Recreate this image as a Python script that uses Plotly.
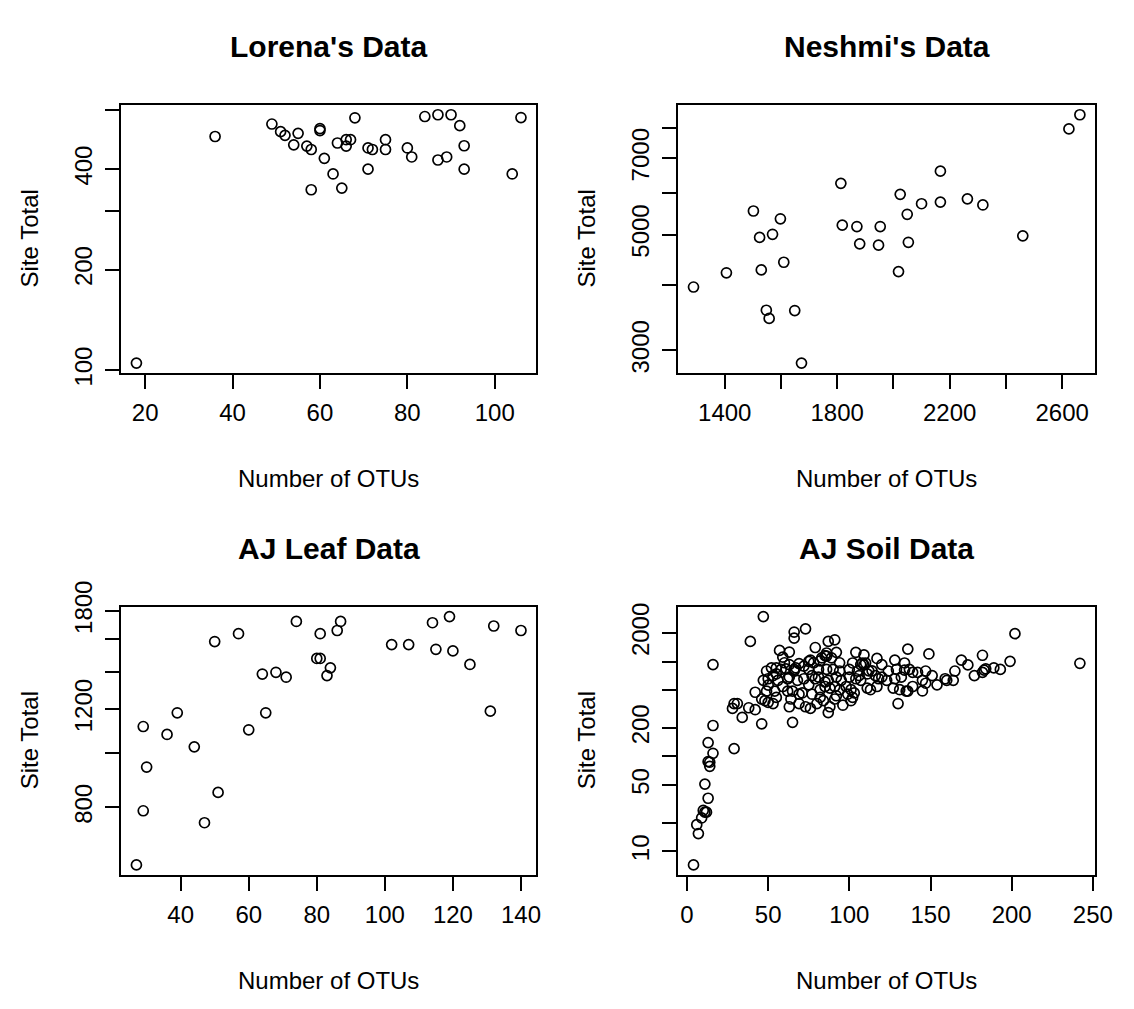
import numpy as np
import plotly.graph_objects as go

# ---------------- data ----------------
lorena_otus = [18, 36, 49, 51, 52, 55, 54, 57, 58, 58, 60, 60, 61, 63, 64, 65, 66, 66, 67, 68,
               71, 71, 72, 75, 75, 80, 81, 84, 87, 87, 89, 90, 92, 93, 93, 104, 106]
lorena_total = [105, 501, 546, 518, 505, 512, 473, 469, 458, 347, 529, 522, 431, 387, 479, 351, 490, 469, 490, 570,
                463, 400, 458, 490, 458, 463, 435, 575, 582, 426, 435, 582, 540, 470, 400, 387, 571]

neshmi_otus = [1289, 1406, 1502, 1524, 1530, 1548, 1558, 1570, 1598, 1610, 1649, 1673, 1813, 1818, 1870,
               1880, 1947, 1953, 2018, 2024, 2049, 2053, 2100, 2167, 2167, 2263, 2318, 2460, 2624, 2663]
neshmi_total = [3968, 4225, 5548, 4938, 4279, 3582, 3455, 5007, 5361, 4426, 3577, 2837, 6267, 5212, 5181,
                4800, 4773, 5181, 4248, 5972, 5468, 4833, 5729, 6614, 5771, 5853, 5698, 4973, 7968, 8481]

leaf_otus = [27, 29, 29, 30, 36, 39, 44, 47, 50, 51, 57, 60, 64, 65, 68, 71, 74, 80, 81, 81,
             83, 84, 86, 87, 102, 107, 114, 115, 119, 120, 125, 131, 132, 140]
leaf_total = [631, 1117, 789, 945, 1081, 1182, 1027, 751, 1586, 851, 1638, 1102, 1387, 1182, 1397, 1369, 1723, 1479, 1479, 1638,
              1378, 1423, 1660, 1723, 1566, 1566, 1714, 1536, 1758, 1526, 1443, 1190, 1691, 1660]

soil_otus = [4, 7, 6, 9, 10, 11, 12, 11, 13, 13, 14, 14, 16, 13, 16, 16, 29, 28, 29, 31,
             34, 38, 42, 46, 39, 42, 47, 65,
             66, 66, 73, 87, 91, 79, 57, 63, 59, 76, 82, 85, 86, 92, 89, 104, 109, 102, 108, 109,
             117, 120, 128, 134, 136, 149, 169, 173, 182, 199, 202, 242,
             177, 182, 183, 184, 189, 193, 165, 164, 160, 159, 154, 151, 147, 147, 145, 145, 142, 139, 139,
             137, 136, 135, 134, 132, 131, 130, 129, 128, 127, 124, 123, 120, 118, 117, 116, 114, 113, 111,
             112, 111, 110, 107,
             49, 52, 55, 58, 61, 66, 67, 72, 75, 81, 86, 90, 94, 100, 105,
             47, 50, 53, 55, 56, 62, 63, 68, 72, 77, 79, 81, 85, 87, 92, 95, 100, 104, 106, 107,
             49, 50, 54, 59, 62, 65, 69, 71, 75, 77, 82, 85, 88, 91, 94, 98, 101, 103,
             46, 48, 50, 53, 55, 63, 64, 69, 73, 76, 80, 82, 84, 87, 88, 91, 92, 96, 101, 102, 99,
             75, 78, 83, 86, 94, 66, 60, 63, 69]
soil_total = [7.2, 15.4, 19.1, 22.5, 27.0, 25.9, 25.9, 51.2, 36.3, 88.4, 87, 78.7, 108, 140, 212, 929, 121, 321, 361, 361,
              258, 326, 311, 221, 1631, 475, 2977, 229,
              2046, 1763, 2212, 1631, 1696, 1406, 1311, 1260, 1112, 1036, 1016, 1156, 1231, 1250, 1095, 1250, 1175, 966, 966, 922,
              1078, 929, 1036, 966, 1352, 1202, 1036, 922, 1165, 1005, 1967, 959,
              712, 770, 813, 839, 859, 826, 795, 634, 634, 659, 568, 712, 795, 591, 634, 490, 770, 770, 546,
              826, 488, 488, 813, 685, 505, 361, 826, 659, 525, 795, 634, 685, 659, 546, 712, 798, 505, 525,
              798, 740, 966, 929,
              795, 859, 859, 826, 839, 826, 859, 894, 826, 826, 826, 826, 795, 826, 795,
              634, 659, 712, 740, 634, 659, 685, 634, 659, 712, 659, 685, 609, 634, 685, 634, 685, 659, 712, 634,
              488, 564, 488, 546, 488, 488, 453, 467, 568, 453, 505, 546, 525, 546, 505, 546, 505, 467,
              403, 387, 372, 361, 419, 334, 403, 361, 334, 321, 361, 419, 387, 290, 334, 403, 436, 347, 387, 419, 453,
              1005, 971, 1095, 1140, 971, 800, 971, 930, 950]

# tick specifications
lorena_xticks = [20, 40, 60, 80, 100]
lorena_yticks = [100, 200, 300, 400, 600]
lorena_ylabels = ["100", "200", "", "400", ""]
neshmi_xticks = [1400, 1600, 1800, 2000, 2200, 2400, 2600]
neshmi_xlabels = ["1400", "", "1800", "", "2200", "", "2600"]
neshmi_yticks = [3000, 4000, 5000, 6000, 7000, 8000]
neshmi_ylabels = ["3000", "", "5000", "", "7000", ""]
leaf_xticks = [40, 60, 80, 100, 120, 140]
leaf_yticks = [800, 1000, 1200, 1400, 1600, 1800]
leaf_ylabels = ["800", "", "1200", "", "", "1800"]
soil_xticks = [0, 50, 100, 150, 200, 250]
soil_yticks = [10, 20, 50, 100, 200, 500, 1000, 2000]
soil_ylabels = ["10", "", "50", "", "200", "", "", "2000"]

titles = ["Lorena's Data", "Neshmi's Data", "AJ Leaf Data", "AJ Soil Data"]
xlab = "Number of OTUs"
ylab = "Site Total"

W, H = 1134, 1009
FONT = "Liberation Sans, Arial, sans-serif"

# panel boxes in pixels (left, right, top, bottom)
boxes = [(123, 545, 82, 361), (689, 1113, 82, 361), (123, 545, 604, 883), (689, 1113, 604, 883)]


def xrange_r(v):
    lo, hi = min(v), max(v)
    d = (hi - lo) * 0.04
    return [lo - d, hi + d]


def yrange_log(v):
    lo, hi = np.log10(min(v)), np.log10(max(v))
    d = (hi - lo) * 0.04
    return [lo - d, hi + d]


panels = [
    (lorena_otus, lorena_total, lorena_xticks, [str(t) for t in lorena_xticks], lorena_yticks, lorena_ylabels),
    (neshmi_otus, neshmi_total, neshmi_xticks, neshmi_xlabels, neshmi_yticks, neshmi_ylabels),
    (leaf_otus, leaf_total, leaf_xticks, [str(t) for t in leaf_xticks], leaf_yticks, leaf_ylabels),
    (soil_otus, soil_total, soil_xticks, [str(t) for t in soil_xticks], soil_yticks, soil_ylabels),
]

fig = go.Figure()
layout = dict(
    width=W, height=H, margin=dict(l=0, r=0, t=0, b=0),
    paper_bgcolor="white", plot_bgcolor="white", showlegend=False,
    font=dict(family=FONT, size=24, color="black"),
)
annotations = []

for i, (xs, ys, xt, xtl, yt, ytl) in enumerate(panels):
    k = "" if i == 0 else str(i + 1)
    l, r, t, b = boxes[i]
    xdom = [l / W, r / W]
    ydom = [1 - b / H, 1 - t / H]
    fig.add_trace(go.Scatter(
        x=xs, y=ys, mode="markers", xaxis="x" + k, yaxis="y" + k,
        marker=dict(symbol="circle-open", size=10, color="black", line=dict(width=1.7, color="black")),
        hoverinfo="x+y",
    ))
    axcommon = dict(showgrid=False, zeroline=False, showline=True, linecolor="black", linewidth=2,
                    mirror=True, ticks="outside", ticklen=14, tickwidth=2, tickcolor="black",
                    tickfont=dict(family=FONT, size=24, color="black"), ticklabelstandoff=3)
    layout["xaxis" + k] = dict(domain=xdom, anchor="y" + k, range=xrange_r(xs),
                               tickmode="array", tickvals=xt, ticktext=xtl, **axcommon)
    layout["yaxis" + k] = dict(domain=ydom, anchor="x" + k, type="log", range=yrange_log(ys),
                               tickmode="array", tickvals=yt, ticktext=ytl, tickangle=-90, **axcommon)
    cx = (l + r) / 2 / W
    cy = 1 - (t + b) / 2 / H
    annotations.append(dict(text="<b>" + titles[i] + "</b>", x=cx, y=1 - (t - 61) / H, xref="paper", yref="paper",
                            showarrow=False, xanchor="center", yanchor="middle",
                            font=dict(family=FONT, size=30, color="black")))
    annotations.append(dict(text=xlab, x=cx, y=1 - (b + 110) / H, xref="paper", yref="paper",
                            showarrow=False, xanchor="center", yanchor="middle",
                            font=dict(family=FONT, size=24, color="black")))
    annotations.append(dict(text=ylab, x=(l - 93) / W, y=cy, xref="paper", yref="paper", textangle=-90,
                            showarrow=False, xanchor="center", yanchor="middle",
                            font=dict(family=FONT, size=24, color="black")))

layout["annotations"] = annotations
fig.update_layout(**layout)
fig.write_html("out.html")
